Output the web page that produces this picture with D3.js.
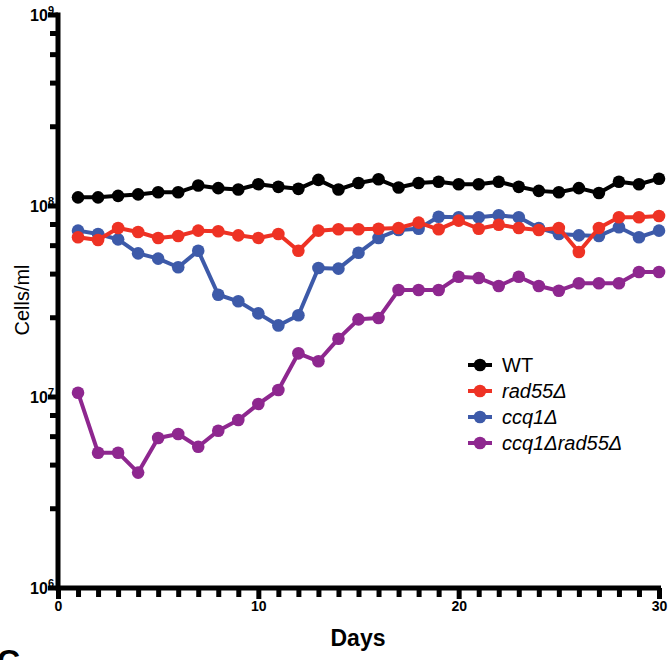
<!DOCTYPE html>
<html>
<head>
<meta charset="utf-8">
<script src="https://cdn.jsdelivr.net/npm/d3@7"></script>
<style>
  body { margin: 0; background: #fff; }
  svg { display: block; }
  text { font-family: "Liberation Sans", Arial, sans-serif; }
  .cond { font-family: "Liberation Sans Narrow", "Liberation Sans", Arial, sans-serif; font-weight: bold; }
</style>
</head>
<body>
<svg id="chart" width="669" height="660"></svg>
<script>
// days 1..30
const days = d3.range(1, 31);

const wt = [1.11e8, 1.11e8, 1.13e8, 1.15e8, 1.18e8, 1.18e8, 1.28e8, 1.24e8, 1.22e8, 1.30e8,
  1.26e8, 1.23e8, 1.37e8, 1.22e8, 1.32e8, 1.38e8, 1.25e8, 1.32e8, 1.34e8, 1.30e8,
  1.30e8, 1.34e8, 1.26e8, 1.20e8, 1.18e8, 1.24e8, 1.17e8, 1.34e8, 1.30e8, 1.39e8];

const rad55 = [6.86e7, 6.64e7, 7.67e7, 7.31e7, 6.80e7, 6.97e7, 7.43e7, 7.37e7, 7.02e7, 6.80e7,
  7.14e7, 5.83e7, 7.43e7, 7.55e7, 7.55e7, 7.60e7, 7.67e7, 8.18e7, 7.55e7, 8.38e7,
  7.60e7, 7.98e7, 7.67e7, 7.49e7, 7.67e7, 5.74e7, 7.67e7, 8.73e7, 8.73e7, 8.86e7];

const ccq1 = [7.43e7, 7.14e7, 6.69e7, 5.65e7, 5.30e7, 4.78e7, 5.83e7, 3.43e7, 3.17e7, 2.74e7,
  2.37e7, 2.68e7, 4.74e7, 4.70e7, 5.69e7, 6.80e7, 7.49e7, 7.60e7, 8.79e7, 8.73e7,
  8.73e7, 8.94e7, 8.73e7, 7.67e7, 7.14e7, 7.02e7, 6.97e7, 7.74e7, 6.86e7, 7.43e7];

const ccq1rad55 = [1.053e7, 5.11e6, 5.11e6, 4.02e6, 6.10e6, 6.40e6, 5.49e6, 6.66e6, 7.58e6, 9.19e6,
  1.088e7, 1.693e7, 1.538e7, 2.02e7, 2.55e7, 2.59e7, 3.63e7, 3.63e7, 3.63e7, 4.26e7,
  4.20e7, 3.81e7, 4.26e7, 3.81e7, 3.60e7, 3.94e7, 3.94e7, 3.94e7, 4.51e7, 4.51e7];

const seriesNames = ["WT", "rad55\u0394", "ccq1\u0394", "ccq1\u0394rad55\u0394"];
const seriesColors = ["#000000", "#ee3224", "#3d5aa9", "#8e278f"];
const seriesValues = [wt, rad55, ccq1, ccq1rad55];

const decades = [1e6, 1e7, 1e8, 1e9];
const minorSteps = [2.6, 4.4, 6.2, 8]; // minor tick marks as drawn in the figure
const xMajor = [0, 10, 20, 30];

const svg = d3.select('#chart');

const x = d3.scaleLinear().domain([0, 30]).range([58, 659]);
const y = d3.scaleLog().domain([1e6, 1e9]).range([588, 15]);

// x axis
const xAxis = svg.append('g')
  .attr('transform', 'translate(0,588)')
  .call(d3.axisBottom(x)
    .tickValues(d3.range(0, 31))
    .tickSize(9)
    .tickSizeOuter(0)
    .tickFormat(d => (xMajor.includes(d) ? d : '')));
xAxis.select('.domain').attr('stroke-width', 5).attr('d', 'M56,0H661');
xAxis.selectAll('.tick line')
  .attr('stroke-width', 5)
  .attr('y2', d => (xMajor.includes(d) ? 11 : 9));
xAxis.selectAll('.tick text')
  .attr('class', 'cond')
  .attr('y', 13)
  .attr('font-size', 14)
  .attr('fill', '#000');

// y axis
const minorVals = [];
decades.slice(0, 3).forEach(dv => minorSteps.forEach(s => minorVals.push(dv * s)));
const yAxis = svg.append('g').attr('transform', 'translate(58,0)');
yAxis.append('line')
  .attr('x1', 0).attr('x2', 0)
  .attr('y1', y(1e9) - 2.5).attr('y2', y(1e6) + 2.5)
  .attr('stroke', '#000').attr('stroke-width', 5);
yAxis.selectAll('.minor')
  .data(minorVals)
  .join('line')
  .attr('class', 'minor')
  .attr('x1', -8).attr('x2', 0)
  .attr('y1', d => y(d)).attr('y2', d => y(d))
  .attr('stroke', '#000').attr('stroke-width', 5);
yAxis.selectAll('.major')
  .data(decades)
  .join('line')
  .attr('class', 'major')
  .attr('x1', -10).attr('x2', 0)
  .attr('y1', d => y(d)).attr('y2', d => y(d))
  .attr('stroke', '#000').attr('stroke-width', 5);
const yLab = yAxis.selectAll('.ylab')
  .data(decades)
  .join('text')
  .attr('class', 'cond')
  .attr('text-anchor', 'end')
  .attr('x', -4)
  .attr('y', d => y(d) + 6)
  .attr('font-size', 16);
yLab.append('tspan').text('10');
yLab.append('tspan')
  .attr('font-size', 11)
  .attr('dy', -7)
  .text(d => Math.round(Math.log10(d)));

// axis titles
svg.append('text')
  .attr('class', 'cond')
  .attr('x', 358).attr('y', 646)
  .attr('text-anchor', 'middle')
  .attr('font-size', 23)
  .text('Days');
svg.append('text')
  .attr('transform', 'translate(29,300) rotate(-90)')
  .attr('text-anchor', 'middle')
  .attr('font-size', 20)
  .text('Cells/ml');

// panel letter of next panel, cut off at the bottom
svg.append('text')
  .attr('class', 'cond')
  .attr('x', -3).attr('y', 672)
  .attr('font-size', 32)
  .text('C');

// series
const line = d3.line().x((d, i) => x(days[i])).y(d => y(d));
const drawOrder = [3, 2, 1, 0];
drawOrder.forEach(k => {
  const g = svg.append('g');
  g.append('path')
    .datum(seriesValues[k])
    .attr('d', line)
    .attr('fill', 'none')
    .attr('stroke', seriesColors[k])
    .attr('stroke-width', 4)
    .attr('stroke-linejoin', 'round');
  g.selectAll('circle')
    .data(seriesValues[k])
    .join('circle')
    .attr('cx', (d, i) => x(days[i]))
    .attr('cy', d => y(d))
    .attr('r', 6.3)
    .attr('fill', seriesColors[k]);
});

// legend
const legend = svg.append('g').attr('transform', 'translate(468,365)');
const rows = legend.selectAll('g')
  .data(seriesNames)
  .join('g')
  .attr('transform', (d, i) => `translate(0,${i * 26})`);
rows.append('line')
  .attr('x1', 0).attr('x2', 24)
  .attr('stroke', (d, i) => seriesColors[i])
  .attr('stroke-width', 4);
rows.append('circle')
  .attr('cx', 12).attr('r', 6.3)
  .attr('fill', (d, i) => seriesColors[i]);
rows.append('text')
  .attr('x', 34).attr('y', 7)
  .attr('font-size', 20)
  .attr('font-style', (d, i) => (i === 0 ? 'normal' : 'italic'))
  .text(d => d);
</script>
</body>
</html>
